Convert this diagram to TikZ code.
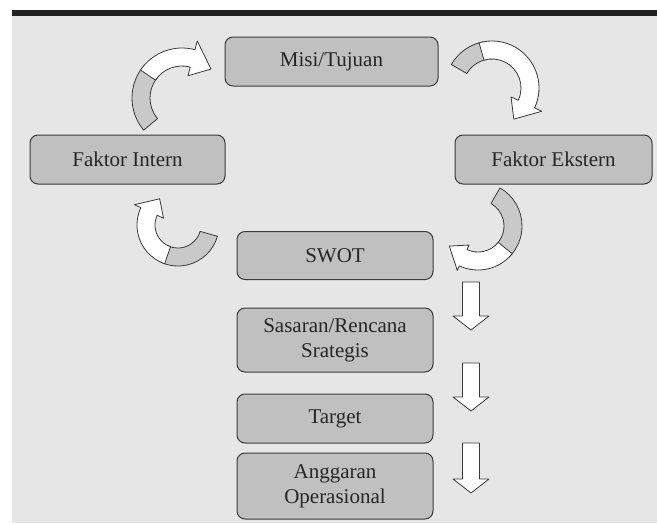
\documentclass[tikz,border=0pt]{standalone}
\usepackage{fontspec}
\setmainfont{Liberation Serif}
\usepackage{xcolor}
\usepackage{tikz}

\definecolor{backgray}{HTML}{E6E6E6}
\definecolor{boxgray}{HTML}{C0C0C0}
\definecolor{tailgray}{HTML}{C9C9C9}
\definecolor{edgegray}{HTML}{3A3A3A}

\begin{document}
\begin{tikzpicture}[x=1pt, y=1pt,
    blok/.style={draw=edgegray, fill=boxgray, line width=1pt, rounded corners=8pt,
      minimum width=196pt, minimum height=49pt, inner sep=0pt, align=center,
      text=black!85, font=\fontsize{21}{25}\selectfont},
    backpart/.style={draw=edgegray, fill=tailgray, line width=0.8pt, line join=round},
    frontpart/.style={draw=edgegray, fill=white, line width=0.8pt, line join=round}]
    \useasboundingbox (0,0) rectangle (657,-523);

    % Slide background and top bar
    \fill[backgray] (12,-15) rectangle (657,-523);
    \fill[black!87] (12,-10) rectangle (657,-15.5);

    % Draw the blocks
    \node[blok, minimum width=213pt] (misi) at (331.5,-61.5) {Misi/Tujuan};
    \node[blok, minimum width=195pt] (intern) at (127.5,-159.5) {Faktor Intern};
    \node[blok, minimum width=197pt] (ekstern) at (553.5,-159.5) {Faktor Ekstern};
    \node[blok, minimum height=48pt] (swot) at (335,-255.5) {SWOT};
    \node[blok, minimum height=64pt] (sasaran) at (335,-340) {Sasaran/Rencana\\Srategis};
    \node[blok] (target) at (335,-418.5) {Target};
    \node[blok, minimum height=66pt] (anggaran) at (335,-486) {Anggaran\\Operasional};

    % Curved arrows round the cycle (centre, radius, tail, turn, head base, tip, head width)
    \foreach \cx/\cy/\r/\ta/\tb/\tc/\td/\h in {182/-98/41/220/140/75/45/18,
        492/-88/38/150/100/-25/-55/17, 478/-226/35/60/-45/-115/-145/14,
        178/-225/32/-16/-115/-205/-235/16} {
      \filldraw[backpart] ([shift={(\cx,\cy)}]{\ta}:{\r+9})
        arc[start angle=\ta, end angle=\tb, radius=\r+9]
        -- ([shift={(\cx,\cy)}]{\tb}:{\r-9})
        arc[start angle=\tb, end angle=\ta, radius=\r-9] -- cycle;
      \filldraw[frontpart] ([shift={(\cx,\cy)}]{\tb+6}:{\r+9})
        arc[start angle=\tb+6, end angle=\tc, radius=\r+9]
        -- ([shift={(\cx,\cy)}]{\tc}:{\r+\h})
        -- ([shift={(\cx,\cy)}]{\td}:{\r})
        -- ([shift={(\cx,\cy)}]{\tc}:{\r-\h})
        -- ([shift={(\cx,\cy)}]{\tc}:{\r-9})
        arc[start angle=\tc, end angle=\tb+6, radius=\r-9] -- cycle;
    }

    % Straight arrows beside the lower blocks
    \foreach \ya/\yb/\yc in {282/316/330, 363/397/411, 443/479/493} {
      \filldraw[frontpart] (462.5,-\ya) -- (479.5,-\ya) -- (479.5,-\yb) -- (489,-\yb)
        -- (471,-\yc) -- (453,-\yb) -- (462.5,-\yb) -- cycle;
    }

\end{tikzpicture}
\end{document}
